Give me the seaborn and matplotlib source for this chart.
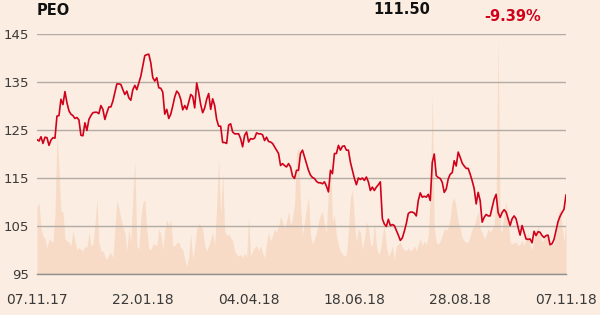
import numpy as np
import pandas as pd
import matplotlib
matplotlib.use("Agg")
import matplotlib.pyplot as plt
import seaborn as sns

# ---------------- data ----------------
ticker = "PEO"
last_price = "111.50"
change = "-9.39%"
tick_labels = ["07.11.17", "22.01.18", "04.04.18", "18.06.18", "28.08.18", "07.11.18"]

price = [
    123.0, 122.7, 123.6, 122.2, 123.5, 123.4, 121.8, 122.9, 123.4, 123.3,
    127.9, 128.0, 131.4, 130.3, 133.0, 130.7, 129.0, 128.3, 128.0, 127.4,
    127.6, 127.1, 123.9, 123.8, 126.5, 124.9, 127.2, 128.0, 128.6, 128.7,
    128.7, 128.4, 130.1, 129.3, 127.2, 128.6, 129.8, 129.8, 131.0, 132.8,
    134.6, 134.6, 134.5, 133.4, 132.4, 133.1, 131.7, 131.2, 133.4, 134.3,
    133.4, 134.8, 136.2, 138.3, 140.5, 140.7, 140.8, 139.0, 135.9, 135.2,
    135.9, 133.8, 133.7, 132.9, 128.3, 129.3, 127.4, 128.3, 130.0, 131.9,
    133.1, 132.6, 131.4, 129.2, 130.1, 129.3, 130.8, 132.4, 132.0, 129.6,
    134.8, 132.8, 130.3, 128.6, 129.6, 131.4, 132.6, 129.3, 131.5, 130.1,
    127.2, 125.8, 125.8, 122.4, 122.4, 122.2, 126.0,
    126.3, 124.6, 124.2, 124.2, 124.2, 123.2, 121.5, 123.9, 124.6, 122.5,
    123.2, 123.1, 123.3, 124.4, 124.2, 124.2, 124.0, 122.8, 123.5, 122.6,
    122.5, 122.2, 121.5, 120.8, 120.1, 117.6, 118.0, 117.6, 117.3, 118.0,
    117.3, 115.4, 114.9, 116.6, 116.6, 120.1, 120.8, 119.4, 118.0, 116.6,
    115.6, 115.1, 114.9, 114.3, 114.0, 114.0, 113.8, 114.2, 113.3, 112.1,
    116.6, 115.9, 120.1, 120.1, 121.8, 120.8, 121.6, 121.7, 120.8, 120.8,
    118.3, 116.6, 114.9, 113.6, 115.0, 114.7, 115.0, 114.5, 115.2, 114.2,
    112.4, 113.1, 112.4, 113.1, 113.6, 114.2, 106.5, 105.4, 104.9, 106.4,
    105.1, 105.3, 105.1, 104.1, 103.1, 102.0, 102.5, 103.9, 105.5, 107.6,
    107.9, 107.9, 107.7, 107.1, 110.3, 111.9, 111.0, 111.2, 111.0, 111.6,
    110.3,
    118.2, 120.0, 115.5, 115.1, 114.9, 114.1, 112.0, 112.7, 114.8, 115.8,
    116.1, 118.6, 117.5, 120.4, 119.3, 118.1, 117.5, 117.0, 117.0, 115.8,
    114.4, 112.8, 109.6, 112.0, 110.3, 105.8, 106.8, 107.4, 107.1, 107.1,
    108.9, 110.6, 111.6, 107.8, 106.8, 107.8, 108.4, 107.9, 106.5, 105.1,
    106.5, 107.1, 106.5, 104.7, 103.1, 105.1, 103.7, 102.3, 102.2, 102.3,
    101.5, 103.9, 103.0, 103.8, 103.7, 103.0, 102.6, 103.0, 103.1, 101.1,
    101.3, 102.2, 104.0, 105.9, 107.0, 107.8, 108.5, 111.5,
]

volume = [
    14.0, 14.8, 9.4, 8.0, 7.3, 5.5, 7.3, 6.9, 6.6, 12.3,
    29.0, 22.0, 13.0, 13.0, 7.3, 6.9, 6.6, 5.9, 9.1, 6.9,
    5.1, 5.5, 5.1, 4.8, 5.9, 5.5, 8.7, 5.9, 6.2, 10.1,
    15.5, 6.6, 4.8, 4.8, 3.7, 3.0, 4.1, 4.4, 3.4, 9.4,
    15.3, 13.7, 11.6, 9.8, 8.7, 4.8, 9.4, 6.6, 16.0, 23.5,
    5.9, 5.1, 11.6, 14.8, 15.5, 9.4, 5.1, 5.1, 6.2, 6.2,
    5.9, 9.4, 8.3, 5.1, 9.1, 11.3, 10.1, 11.3, 5.9, 5.9,
    6.6, 6.6, 5.5, 5.1, 3.0, 1.6, 3.7, 8.3, 3.0, 5.9,
    9.4, 10.5, 10.1, 9.4, 5.9, 4.8, 5.9, 7.3, 8.7, 5.9,
    14.0, 24.0, 12.0, 21.0, 9.0, 8.0, 8.3, 7.6, 6.9, 4.8,
    4.1, 3.7, 4.1, 3.4, 4.4, 3.4, 11.9, 3.7, 4.8, 5.5,
    5.9, 4.8, 5.9, 4.4, 3.4, 6.6, 8.7, 6.9, 8.0, 9.4,
    8.7, 10.1, 11.9, 10.9, 9.4, 10.9, 13.0, 10.1, 11.6, 14.4,
    25.0, 26.5, 14.4, 8.0, 10.9, 13.7, 16.0, 8.0, 6.2, 7.3,
    8.7, 10.9, 12.3, 13.0, 10.1, 8.7, 18.0, 23.7, 10.9, 12.3,
    8.0, 5.9, 4.8, 4.1, 3.7, 4.1, 9.4, 16.0, 17.5, 10.9,
    6.6, 9.4, 8.7, 5.1, 7.3, 10.9, 9.8, 6.2, 5.9, 10.9,
    5.9, 4.1, 4.8, 8.0, 10.1, 5.9, 3.7, 4.4, 5.9, 3.0,
    5.9, 6.2, 6.6, 5.5, 5.1, 4.8, 5.5, 4.8, 5.1, 5.9,
    4.8, 6.2, 7.3, 5.9, 6.9, 6.2, 8.0, 16.0, 37.7, 9.4,
    6.6, 6.2, 6.9, 8.0, 9.4, 9.1, 9.8, 11.6, 15.1, 15.9,
    13.7, 10.9, 9.4, 7.6, 6.9, 6.6, 6.6, 8.0, 9.4, 10.1,
    11.6, 13.0, 9.4, 8.7, 7.3, 8.0, 9.4, 8.7, 9.4, 10.1,
    16.0, 49.0, 9.4, 8.7, 13.0, 15.0, 11.6, 6.6, 6.2, 6.6,
    6.6, 5.9, 6.2, 6.9, 5.9, 7.6, 8.7, 5.9, 5.1, 7.3,
    8.7, 10.1, 8.0, 6.6, 7.3, 8.7, 8.0, 6.9, 5.9, 6.2,
    8.7, 12.3, 13.7, 10.1, 6.6, 11.6,
]

y_ticks = [95, 105, 115, 125, 135, 145]

# ---------------- style ----------------
BG = "#fbede1"
VOL = "#f7dbc6"
RED = "#d0021b"
GRID = "#b3aca6"
TXT = "#3a3a3a"

sns.set_style("white")
plt.rcParams["font.family"] = ["DejaVu Sans"]

df = pd.DataFrame({"idx": np.arange(len(price)), "price": price})
n = len(price)
vx = np.arange(len(volume))

W, H = 600, 315
fig = plt.figure(figsize=(W / 100, H / 100), dpi=100)
fig.patch.set_facecolor(BG)

left, right = 37 / W, 566 / W
bottom = 1 - 274 / H
top = 1 - 34 / H
rect = [left, bottom, right - left, top - bottom]

axv = fig.add_axes(rect)
axv.set_facecolor(BG)
axv.fill_between(vx, 0, volume, color=VOL, lw=0)
axv.set_ylim(0, 50)
axv.set_xlim(0, n - 1)
axv.set_yticks([])
for s in axv.spines.values():
    s.set_visible(False)

axp = fig.add_axes(rect, sharex=axv)
axp.patch.set_alpha(0)
axp.set_ylim(95, 145)
axp.set_yticks(y_ticks)
axp.yaxis.grid(True, color=GRID, lw=1)
axp.xaxis.grid(False)
axp.set_axisbelow(True)
sns.lineplot(data=df, x="idx", y="price", ax=axp, color=RED, lw=1.2)
axp.set_xlabel("")
axp.set_ylabel("")
for k, s in axp.spines.items():
    s.set_visible(k == "bottom")
axp.spines["bottom"].set_color("#8f8f8f")
axp.spines["bottom"].set_linewidth(1)

xt = [(n - 1) * k / 5 for k in range(6)]
axp.set_xticks(xt)
axp.set_xticklabels(tick_labels)
axp.tick_params(axis="x", direction="out", length=10, width=1, color="#8f8f8f",
                pad=4, labelsize=10, labelcolor=TXT)
axp.tick_params(axis="y", length=0, pad=6, labelsize=9.5, labelcolor=TXT)
axv.tick_params(axis="x", length=0, labelbottom=False)
axp.set_xlim(0, n - 1)

fig.text(37 / W, 1 - 10.5 / H, ticker, fontsize=10.5, fontweight="bold",
         color="#111111", va="center", ha="left")
fig.text(402 / W, 1 - 9 / H, last_price, fontsize=10.5, fontweight="bold",
         color="#111111", va="center", ha="center")
fig.text(513 / W, 1 - 16.5 / H, change, fontsize=10.5, fontweight="bold",
         color=RED, va="center", ha="center")

fig.savefig("out.png", dpi=100, facecolor=BG)
